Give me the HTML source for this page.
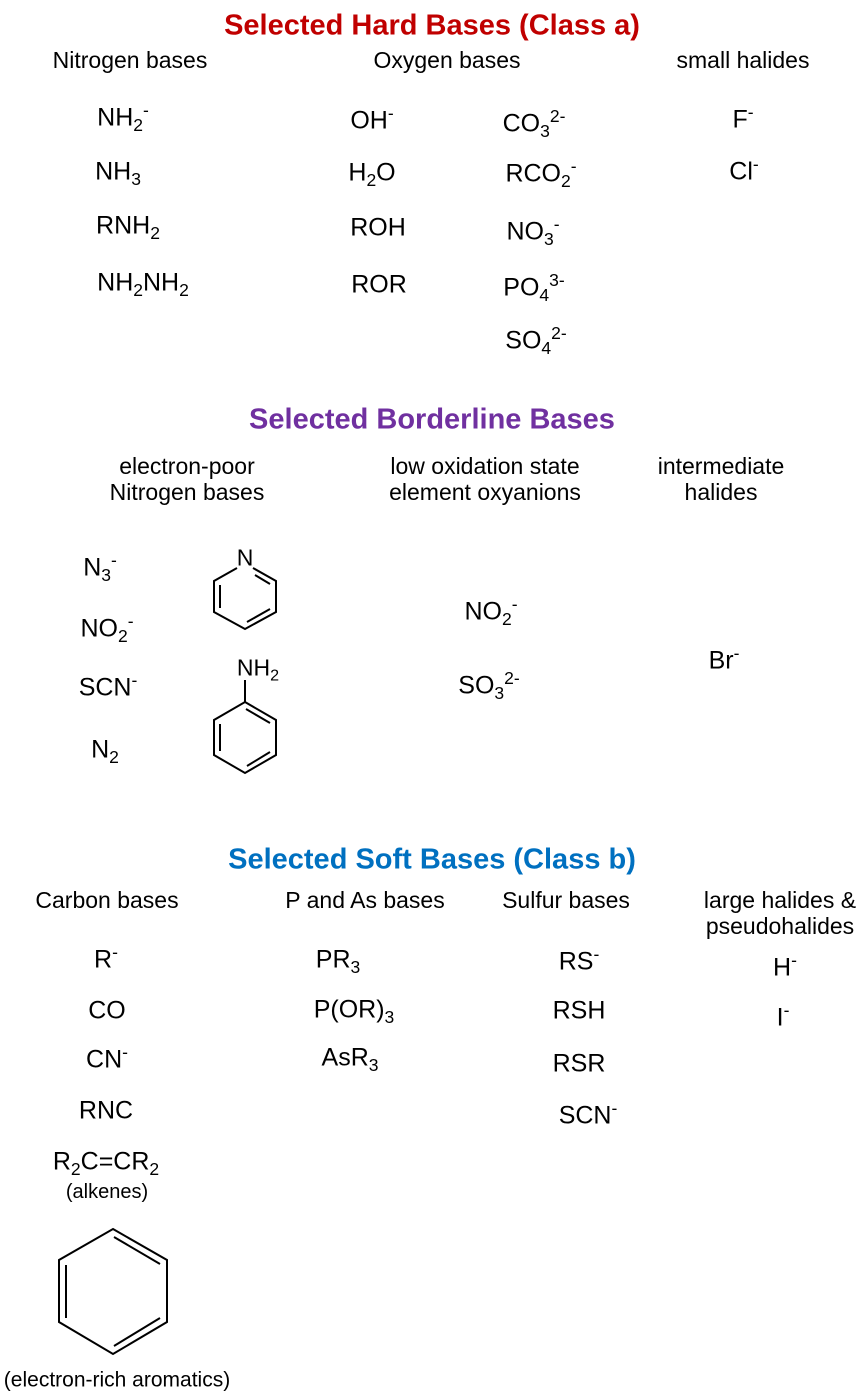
<!DOCTYPE html>
<html><head><meta charset="utf-8"><style>
body{margin:0;width:864px;height:1396px;background:#fff;position:relative;font-family:"Liberation Sans",Arial,sans-serif;color:#000;overflow:hidden}
.t{position:absolute;transform:translate(-50%,-50%);white-space:nowrap;line-height:1;font-size:25px}
.h{font-size:23px;text-align:center;line-height:26px}
.ti{font-size:29px;font-weight:bold}
sub{font-size:70%;vertical-align:-0.3em;line-height:0}
sup{font-size:70%;vertical-align:0.55em;line-height:0}
svg{position:absolute;left:0;top:0}
</style></head><body>
<div class="t ti" style="left:432px;top:26px;color:#c00000">Selected Hard Bases (Class a)</div>
<div class="t h" style="left:130px;top:60px">Nitrogen bases</div>
<div class="t h" style="left:447px;top:60px">Oxygen bases</div>
<div class="t h" style="left:743px;top:60px">small halides</div>
<div class="t" style="left:123px;top:118px">NH<sub>2</sub><sup>-</sup></div>
<div class="t" style="left:118px;top:172px">NH<sub>3</sub></div>
<div class="t" style="left:128px;top:226px">RNH<sub>2</sub></div>
<div class="t" style="left:143px;top:283px">NH<sub>2</sub>NH<sub>2</sub></div>
<div class="t" style="left:372px;top:121px">OH<sup>-</sup></div>
<div class="t" style="left:372px;top:173px">H<sub>2</sub>O</div>
<div class="t" style="left:378px;top:228px">ROH</div>
<div class="t" style="left:379px;top:285px">ROR</div>
<div class="t" style="left:534px;top:124px">CO<sub>3</sub><sup>2-</sup></div>
<div class="t" style="left:541px;top:174px">RCO<sub>2</sub><sup>-</sup></div>
<div class="t" style="left:533px;top:232px">NO<sub>3</sub><sup>-</sup></div>
<div class="t" style="left:534px;top:288px">PO<sub>4</sub><sup>3-</sup></div>
<div class="t" style="left:536px;top:341px">SO<sub>4</sub><sup>2-</sup></div>
<div class="t" style="left:743px;top:120px">F<sup>-</sup></div>
<div class="t" style="left:744px;top:172px">Cl<sup>-</sup></div>

<div class="t ti" style="left:432px;top:420px;color:#7030a0">Selected Borderline Bases</div>
<div class="t h" style="left:187px;top:479px">electron-poor<br>Nitrogen bases</div>
<div class="t h" style="left:485px;top:479px">low oxidation state<br>element oxyanions</div>
<div class="t h" style="left:721px;top:479px">intermediate<br>halides</div>
<div class="t" style="left:100px;top:568px">N<sub>3</sub><sup>-</sup></div>
<div class="t" style="left:107px;top:629px">NO<sub>2</sub><sup>-</sup></div>
<div class="t" style="left:108px;top:688px">SCN<sup>-</sup></div>
<div class="t" style="left:105px;top:750px">N<sub>2</sub></div>
<div class="t" style="left:491px;top:612px">NO<sub>2</sub><sup>-</sup></div>
<div class="t" style="left:489px;top:686px">SO<sub>3</sub><sup>2-</sup></div>
<div class="t" style="left:724px;top:661px">Br<sup>-</sup></div>
<div class="t" style="left:245px;top:558px;font-size:23px">N</div>
<div class="t" style="left:258px;top:668px;font-size:23px">NH<sub>2</sub></div>

<div class="t ti" style="left:432px;top:860px;color:#0070c0">Selected Soft Bases (Class b)</div>
<div class="t h" style="left:107px;top:900px">Carbon bases</div>
<div class="t h" style="left:365px;top:900px">P and As bases</div>
<div class="t h" style="left:566px;top:900px">Sulfur bases</div>
<div class="t h" style="left:780px;top:913px">large halides &amp;<br>pseudohalides</div>
<div class="t" style="left:106px;top:960px">R<sup>-</sup></div>
<div class="t" style="left:107px;top:1011px">CO</div>
<div class="t" style="left:107px;top:1060px">CN<sup>-</sup></div>
<div class="t" style="left:106px;top:1111px">RNC</div>
<div class="t" style="left:106px;top:1162px">R<sub>2</sub>C=CR<sub>2</sub></div>
<div class="t" style="left:107px;top:1192px;font-size:20px">(alkenes)</div>
<div class="t" style="left:338px;top:960px">PR<sub>3</sub></div>
<div class="t" style="left:354px;top:1010px">P(OR)<sub>3</sub></div>
<div class="t" style="left:350px;top:1058px">AsR<sub>3</sub></div>
<div class="t" style="left:579px;top:962px">RS<sup>-</sup></div>
<div class="t" style="left:579px;top:1011px">RSH</div>
<div class="t" style="left:579px;top:1064px">RSR</div>
<div class="t" style="left:588px;top:1116px">SCN<sup>-</sup></div>
<div class="t" style="left:785px;top:968px">H<sup>-</sup></div>
<div class="t" style="left:783px;top:1018px">I<sup>-</sup></div>
<div class="t" style="left:117px;top:1380px;font-size:21px">(electron-rich aromatics)</div>

<svg width="864" height="1396" fill="none" stroke="#000" stroke-width="2">
<polyline points="237,568 214,581 214,612 245,629 276,612 276,581 253,568"/>
<line x1="220" y1="585" x2="220" y2="608"/>
<line x1="247" y1="622" x2="270" y2="609"/>
<line x1="255" y1="575" x2="270" y2="584"/>
<line x1="245" y1="680" x2="245" y2="702"/>
<polygon points="245,702 276,720 276,755 245,773 214,755 214,720"/>
<line x1="246" y1="709" x2="270" y2="723"/>
<line x1="220" y1="724" x2="220" y2="751"/>
<line x1="247" y1="766" x2="270" y2="752"/>
<polygon points="113,1229 167,1260 167,1322 113,1354 59,1322 59,1260"/>
<line x1="114" y1="1237" x2="160" y2="1264"/>
<line x1="66" y1="1265" x2="66" y2="1318"/>
<line x1="114" y1="1346" x2="160" y2="1318"/>
</svg>
</body></html>
